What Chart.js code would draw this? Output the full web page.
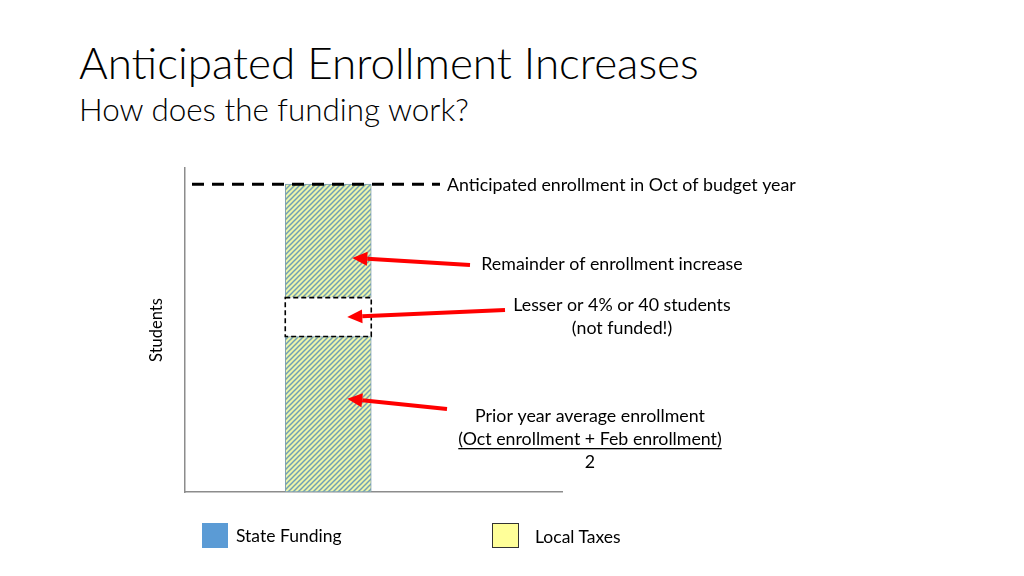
<!DOCTYPE html>
<html>
<head>
<meta charset="utf-8">
<script src="https://cdn.jsdelivr.net/npm/chart.js@4.4.1/dist/chart.umd.min.js"></script>
<style>
  html, body { margin:0; padding:0; background:#fff; }
  body { width:1024px; height:576px; position:relative; overflow:hidden; font-family: Lato, "Open Sans", sans-serif; color:#000; }
  #wrap { position:absolute; left:0; top:0; width:1024px; height:576px; }
  .title { position:absolute; left:79px; top:36px; font-size:44px; font-weight:300; white-space:nowrap; }
  .sub { position:absolute; left:79px; top:90px; font-size:31.4px; font-weight:300; white-space:nowrap; }
  .sw { position:absolute; width:26px; height:25px; box-sizing:border-box; }
  .lg { position:absolute; font-size:17.5px; white-space:nowrap; }
</style>
</head>
<body>
<div class="title">Anticipated Enrollment Increases</div>
<div class="sub">How does the funding work?</div>
<div id="wrap"><canvas id="c" width="1024" height="576"></canvas></div>
<div class="sw" style="left:202px; top:523px; background:#5b9bd5;"></div>
<div class="lg" style="left:236px; top:525px;">State Funding</div>
<div class="sw" style="left:492px; top:523px; width:27px; background:#ffff99; border:1px solid #333;"></div>
<div class="lg" style="left:535px; top:526px;">Local Taxes</div>

<script>
// segments of the single enrollment bar, bottom to top (students, relative units)
const segments   = ['Prior year average enrollment', 'Lesser or 4% or 40 students', 'Remainder of enrollment increase'];
const segValues  = [48, 12, 35];
const barX       = [0.38];
const anticipated = segValues.reduce((s, v) => s + v, 0);

function hatch() {
  const p = document.createElement('canvas');
  p.width = 5; p.height = 5;
  const g = p.getContext('2d');
  g.fillStyle = '#edf5aa';
  g.fillRect(0, 0, 5, 5);
  g.strokeStyle = '#70a0b4';
  g.lineWidth = 1.5;
  [[0, 5, 5, 0], [-2.5, 2.5, 2.5, -2.5], [2.5, 7.5, 7.5, 2.5]].forEach(l => {
    g.beginPath(); g.moveTo(l[0], l[1]); g.lineTo(l[2], l[3]); g.stroke();
  });
  return document.getElementById('c').getContext('2d').createPattern(p, 'repeat');
}

function arrow(ctx, x0, y0, x1, y1) {
  const a = Math.atan2(y1 - y0, x1 - x0), L = 15, W = 7;
  const bx = x1 - L * Math.cos(a), by = y1 - L * Math.sin(a);
  ctx.strokeStyle = '#ff0000'; ctx.fillStyle = '#ff0000'; ctx.lineWidth = 4;
  ctx.beginPath(); ctx.moveTo(x0, y0); ctx.lineTo(bx, by); ctx.stroke();
  ctx.beginPath();
  ctx.moveTo(x1, y1);
  ctx.lineTo(bx + W * Math.sin(a), by - W * Math.cos(a));
  ctx.lineTo(bx - W * Math.sin(a), by + W * Math.cos(a));
  ctx.closePath(); ctx.fill();
}

const notes = {
  id: 'notes',
  afterDatasetsDraw(chart) {
    const ctx = chart.ctx, y = chart.scales.y, area = chart.chartArea;
    const gap = chart.getDatasetMeta(1).data[0];
    const bar = chart.getDatasetMeta(0).data[0];
    ctx.save();

    // dashed outline of the unfunded piece
    ctx.setLineDash([5, 3]); ctx.lineWidth = 1.6; ctx.strokeStyle = '#000';
    ctx.strokeRect(gap.x - gap.width / 2, gap.y, gap.width, gap.base - gap.y);

    // anticipated enrollment line
    const ya = y.getPixelForValue(anticipated);
    ctx.setLineDash([12, 8]); ctx.lineWidth = 3;
    ctx.beginPath(); ctx.moveTo(area.left + 7, ya); ctx.lineTo(440, ya); ctx.stroke();
    ctx.setLineDash([]);

    // arrows pointing into the bar
    const s0 = segValues[0], s1 = segValues[1], s2 = segValues[2];
    arrow(ctx, 470, 265, bar.x + 24, y.getPixelForValue(s0 + s1 + s2 * 0.35));
    arrow(ctx, 505, 310, bar.x + 19, y.getPixelForValue(s0 + s1 / 2));
    arrow(ctx, 447, 409, bar.x + 19, y.getPixelForValue(s0 * 0.6));

    ctx.fillStyle = '#000';
    ctx.font = '17.8px Lato, "Open Sans", sans-serif';
    ctx.textBaseline = 'middle';
    ctx.textAlign = 'left';
    ctx.fillText('Anticipated enrollment in Oct of budget year', 447, ya + 1);
    ctx.textAlign = 'center';
    ctx.fillText('Remainder of enrollment increase', 612, 264);
    ctx.fillText('Lesser or 4% or 40 students', 622, 305);
    ctx.fillText('(not funded!)', 622, 328);
    ctx.fillText('Prior year average enrollment', 590, 416);
    const eq = '(Oct enrollment + Feb enrollment)';
    ctx.fillText(eq, 590, 439);
    const w = ctx.measureText(eq).width;
    ctx.fillRect(590 - w / 2, 448, w, 1.3);
    ctx.fillText('2', 590, 462);

    // axis title
    ctx.font = '16.5px Lato, "Open Sans", sans-serif';
    ctx.translate(157, (area.top + area.bottom) / 2);
    ctx.rotate(-Math.PI / 2);
    ctx.fillText('Students', 0, 0);
    ctx.restore();
  }
};

const pat = hatch();
const fills = [pat, '#ffffff', pat];

new Chart(document.getElementById('c'), {
  type: 'bar',
  data: {
    datasets: segments.map((name, i) => ({
      label: name,
      data: [{ x: barX[0], y: segValues[i] }],
      backgroundColor: fills[i],
      borderColor: i === 1 ? 'rgba(0,0,0,0)' : '#7f9fb2',
      borderWidth: i === 1 ? 0 : 1,
      borderSkipped: false,
      barThickness: 86,
      stack: 's'
    }))
  },
  options: {
    responsive: false,
    animation: false,
    events: [],
    layout: { padding: { left: 177, right: 462, top: 168, bottom: 76 } },
    plugins: { legend: { display: false }, tooltip: { enabled: false } },
    scales: {
      x: { type: 'linear', min: 0, max: 1, offset: false, ticks: { display: false }, grid: { display: false },
           border: { display: true, color: '#8c8c8c', width: 1.5 } },
      y: { min: 0, max: 100, ticks: { display: false }, grid: { display: false },
           border: { display: true, color: '#8c8c8c', width: 1.5 } }
    }
  },
  plugins: [notes]
});
</script>
</body>
</html>
